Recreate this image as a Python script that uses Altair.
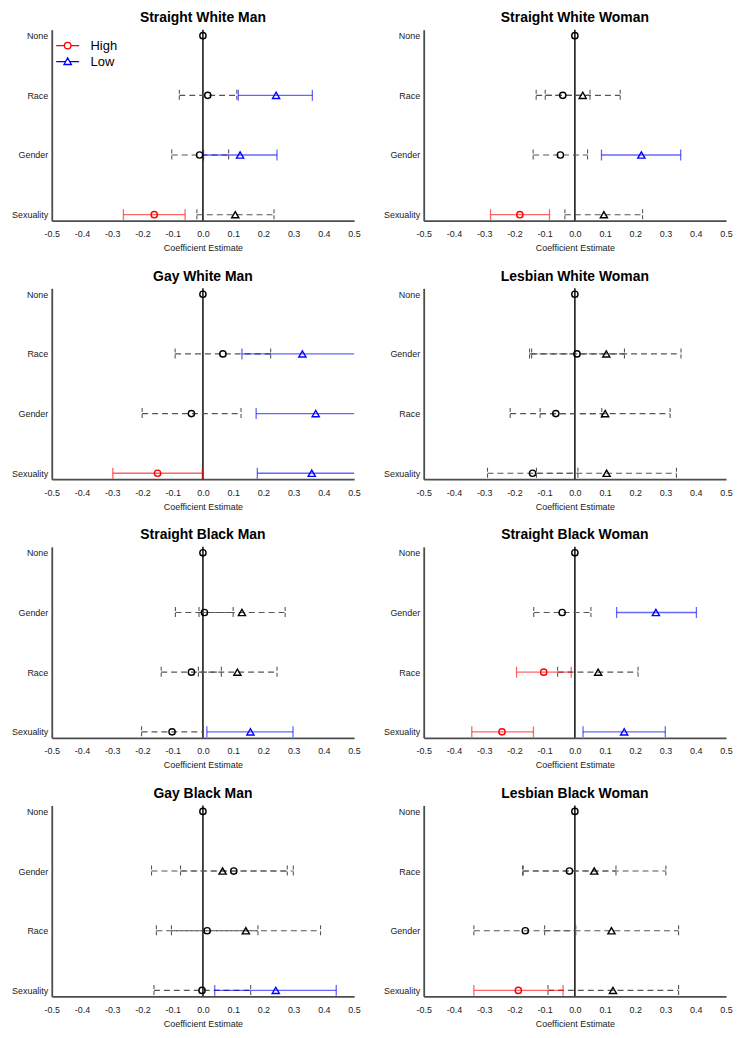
import altair as alt
import numpy as np
import pandas as pd

PANEL_TITLES = ["Straight White Man", "Straight White Woman", "Gay White Man", "Lesbian White Woman",
                "Straight Black Man", "Straight Black Woman", "Gay Black Man", "Lesbian Black Woman"]
BASELINE = "None"
ROW_LABELS = [
    ["Race", "Gender", "Sexuality"],
    ["Race", "Gender", "Sexuality"],
    ["Race", "Gender", "Sexuality"],
    ["Gender", "Race", "Sexuality"],
    ["Gender", "Race", "Sexuality"],
    ["Gender", "Race", "Sexuality"],
    ["Gender", "Race", "Sexuality"],
    ["Race", "Gender", "Sexuality"],
]
# "High" condition (circle): estimate, lower and upper CI bound, per row above
HIGH_EST = [[0.016, -0.011, -0.161], [-0.040, -0.048, -0.182], [0.066, -0.038, -0.150], [0.007, -0.063, -0.140],
            [0.005, -0.038, -0.102], [-0.042, -0.103, -0.241], [0.102, 0.014, -0.003], [-0.018, -0.164, -0.187]]
HIGH_LO = [[-0.078, -0.103, -0.263], [-0.128, -0.138, -0.279], [-0.092, -0.201, -0.298], [-0.150, -0.214, -0.289],
           [-0.091, -0.138, -0.203], [-0.136, -0.193, -0.341], [-0.074, -0.154, -0.162], [-0.173, -0.334, -0.334]]
HIGH_HI = [[0.112, 0.085, -0.059], [0.050, 0.042, -0.084], [0.224, 0.126, -0.002], [0.164, 0.089, 0.010],
           [0.100, 0.061, 0.001], [0.053, -0.012, -0.137], [0.279, 0.182, 0.158], [0.136, 0.003, -0.039]]
# "Low" condition (triangle)
LOW_EST = [[0.242, 0.123, 0.107], [0.026, 0.220, 0.096], [0.329, 0.373, 0.360], [0.104, 0.100, 0.105],
           [0.129, 0.114, 0.157], [0.268, 0.077, 0.163], [0.065, 0.142, 0.241], [0.064, 0.121, 0.126]]
LOW_LO = [[0.117, 0.002, -0.020], [-0.098, 0.088, -0.033], [0.129, 0.176, 0.180], [-0.143, -0.115, -0.127],
          [-0.013, -0.015, 0.013], [0.138, -0.057, 0.027], [-0.170, -0.104, 0.039], [-0.171, -0.100, -0.089]]
LOW_HI = [[0.362, 0.245, 0.235], [0.150, 0.350, 0.224], [0.529, 0.570, 0.540], [0.351, 0.315, 0.336],
          [0.272, 0.245, 0.298], [0.402, 0.209, 0.299], [0.299, 0.389, 0.441], [0.301, 0.343, 0.343]]
TICKS = [-0.5, -0.4, -0.3, -0.2, -0.1, 0.0, 0.1, 0.2, 0.3, 0.4, 0.5]
GROUPS = ["High", "Low"]

FONT = "Liberation Sans"
RED, BLUE, GREY, BLACK = "#ff0000", "#0000ff", "#555555", "#000000"
W, H = 304, 192

CIRCLE_PATH = "M-1.92,0L-0.55,0M0.55,0L1.92,0M0.55,0A0.55,0.55,0,1,1,-0.55,0A0.55,0.55,0,1,1,0.55,0"
TRI_PATH = "M-1.92,0L-0.35,0M0.35,0L1.92,0M0,-0.62L0.62,0.5L-0.62,0.5Z"
CAP_PATH = "M0,-1L0,1"

XSCALE = alt.Scale(domain=[-0.5, 0.5], nice=False, zero=False)
XAXIS = alt.Axis(values=TICKS, labelExpr="replace(format(datum.value, '.1f'), '\u2212', '-')",
                 labelFlush=False, labelPadding=9, titlePadding=5)


def xenc(field):
    return alt.X(f"{field}:Q", scale=XSCALE, axis=XAXIS, title="Coefficient Estimate")


def build(i):
    rows = [dict(cat=BASELINE, group="High", est=0.0, lo=None, hi=None)]
    for j, c in enumerate(ROW_LABELS[i]):
        rows.append(dict(cat=c, group="High", est=HIGH_EST[i][j], lo=HIGH_LO[i][j], hi=HIGH_HI[i][j]))
        rows.append(dict(cat=c, group="Low", est=LOW_EST[i][j], lo=LOW_LO[i][j], hi=LOW_HI[i][j]))
    df = pd.DataFrame(rows)
    lo = df["lo"].astype(float)
    hi = df["hi"].astype(float)
    sig = ((lo > 0) | (hi < 0)).fillna(False)
    df["sig"] = sig.astype(bool)
    grp_col = np.where(df["group"] == "High", RED, BLUE)
    df["line_color"] = np.where(df["sig"], grp_col, GREY)
    df["pt_color"] = np.where(df["sig"], grp_col, BLACK)
    return df


def panel(i, legend=False):
    order = [BASELINE] + ROW_LABELS[i]
    df = build(i)
    y = alt.Y("cat:N", sort=order, scale=alt.Scale(type="point", domain=order, padding=0.1),
              axis=alt.Axis(title=None, labelPadding=4))
    base = alt.Chart()
    zero = alt.Chart(pd.DataFrame({"est": [0.0]})).mark_rule(color="#1a1a1a", strokeWidth=1.6).encode(x=xenc("est"))
    ns = "isValid(datum.lo) && !datum.sig"
    ns_lines = base.mark_rule(strokeDash=[6, 4], strokeWidth=1.1, color=GREY, clip=True).encode(
        x=xenc("lo"), x2="hi:Q", y=y).transform_filter(ns)
    ns_caps = base.mark_point(shape=CAP_PATH, size=121, filled=False, strokeWidth=1.1, color=GREY,
                              strokeDash=[4, 2], clip=True, opacity=1).encode(
        x=xenc("xv"), y=y).transform_filter(ns).transform_fold(["lo", "hi"], as_=["end", "xv"])
    sig_lines = base.mark_rule(strokeWidth=1.3, opacity=0.6, clip=True).encode(
        x=xenc("lo"), x2="hi:Q", y=y, stroke=alt.Stroke("line_color:N", scale=None)).transform_filter("datum.sig")
    sig_caps = base.mark_point(shape=CAP_PATH, size=121, filled=False, strokeWidth=1.3, opacity=0.6, clip=True).encode(
        x=xenc("xv"), y=y, stroke=alt.Stroke("line_color:N", scale=None)).transform_filter(
        "datum.sig").transform_fold(["lo", "hi"], as_=["end", "xv"])
    circles = base.mark_point(shape="circle", size=40, filled=False, strokeWidth=1.4, opacity=1).encode(
        x=xenc("est"), y=y, stroke=alt.Stroke("pt_color:N", scale=None)).transform_filter("datum.group == 'High'")
    tris = base.mark_point(shape="triangle-up", size=52, filled=False, strokeWidth=1.4, opacity=1).encode(
        x=xenc("est"), y=y, stroke=alt.Stroke("pt_color:N", scale=None)).transform_filter("datum.group == 'Low'")
    layers = [zero, ns_lines, ns_caps, sig_lines, sig_caps, circles, tris]
    if legend:
        leg = alt.Legend(title=None, orient="none", legendX=9, legendY=9, symbolSize=144,
                         symbolStrokeWidth=1.3, labelFontSize=13, labelFont=FONT, labelColor="#000",
                         labelOffset=16, rowPadding=2, padding=0)
        ldf = pd.DataFrame({"Legend": GROUPS, "est": [0.0, 0.0], "cat": [BASELINE, BASELINE]})
        legend_layer = alt.Chart(ldf).mark_point(filled=False, size=144, strokeWidth=1.3, opacity=1).encode(
            x=xenc("est"), y=y,
            color=alt.Color("Legend:N", scale=alt.Scale(domain=GROUPS, range=[RED, BLUE]), legend=leg),
            shape=alt.Shape("Legend:N", scale=alt.Scale(domain=GROUPS, range=[CIRCLE_PATH, TRI_PATH]), legend=leg),
        ).transform_filter("false")
        layers.append(legend_layer)
    return alt.layer(*layers, data=df).properties(width=W, height=H, title=PANEL_TITLES[i])


rows = []
for r in range(4):
    rows.append(alt.hconcat(panel(2 * r, legend=(r == 0)), panel(2 * r + 1), spacing=22))

chart = alt.vconcat(*rows, spacing=17).properties(
    padding={"left": 3, "top": 0, "right": 0, "bottom": 0}
).configure(font=FONT).configure_view(stroke=None).configure_axis(
    labelFont=FONT, titleFont=FONT, labelFontSize=9, titleFontSize=9, titleFontWeight="normal",
    labelColor="#1a1a1a", titleColor="#1a1a1a", ticks=False, grid=False,
    domainColor="#4d4d4d", domainWidth=1.8
).configure_title(font=FONT, fontSize=14, fontWeight="bold", color="#000", offset=4, anchor="middle", frame="group")

chart.save("out.html", embed_options={"renderer": "svg", "actions": False})
